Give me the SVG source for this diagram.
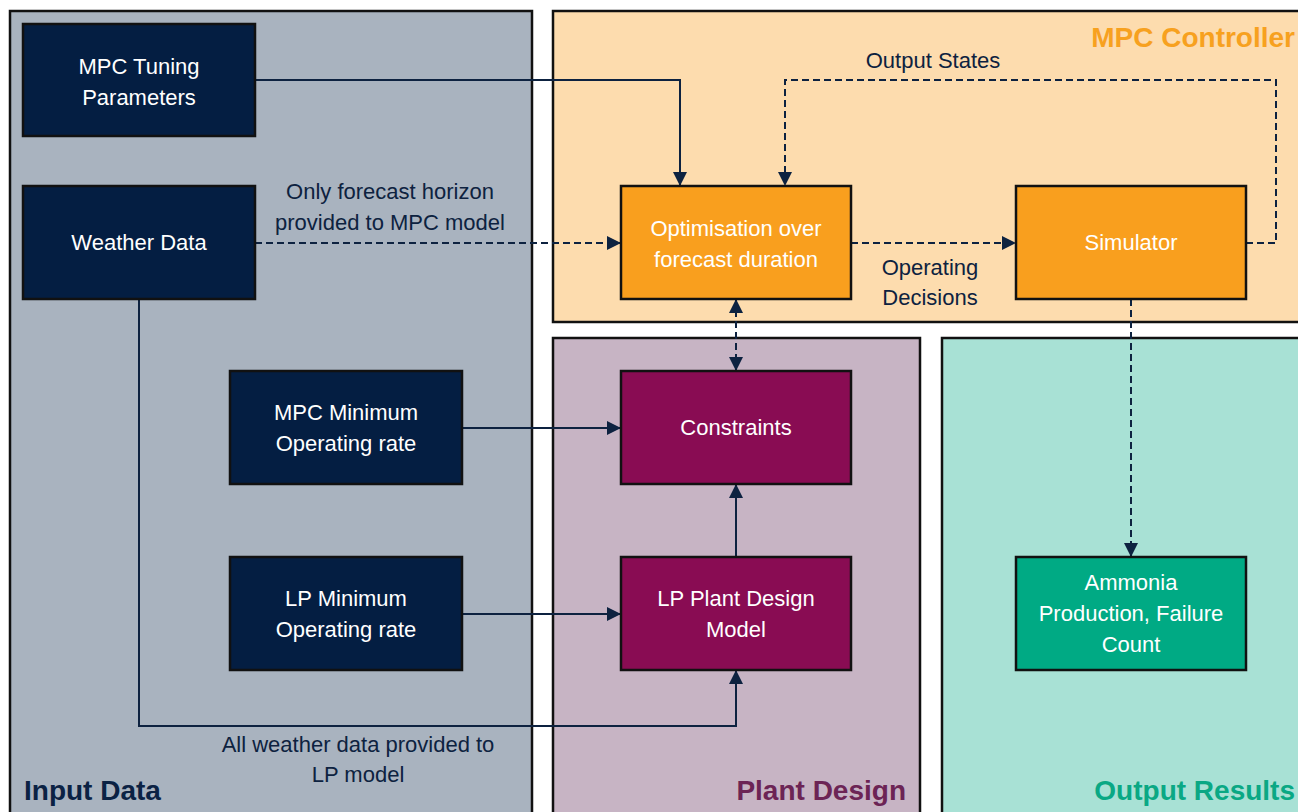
<svg xmlns="http://www.w3.org/2000/svg" width="1298" height="812" viewBox="0 0 1298 812">
<style>
.panel{stroke:#111;stroke-width:2.5}
.node{stroke:#111;stroke-width:2.5}
.navy{fill:#041e42}
.orange{fill:#f99f1e}
.plum{fill:#890c53}
.green{fill:#00aa84}
.nt{font-family:"Liberation Sans",Arial,sans-serif;font-size:22px;fill:#fff;text-anchor:middle}
.lbl{font-family:"Liberation Sans",Arial,sans-serif;font-size:22px;fill:#0d2240;text-anchor:middle}
.title{font-family:"Liberation Sans",Arial,sans-serif;font-size:28px;font-weight:bold}
.solid{fill:none;stroke:#0d2240;stroke-width:2}
.dash{fill:none;stroke:#0d2240;stroke-width:2;stroke-dasharray:7 4}
</style>
<defs>
<marker id="ah" viewBox="0 0 14 14" refX="14" refY="7" markerWidth="14" markerHeight="14" markerUnits="userSpaceOnUse" orient="auto-start-reverse">
<path d="M0,0 L14,7 L0,14 Z" fill="#0d2240"/>
</marker>
</defs>
<rect width="1298" height="812" fill="#fff"/>
<g id="panels">
<rect class="panel" x="10" y="11" width="522" height="810" fill="#a9b3bf"/>
<rect class="panel" x="553" y="11" width="755" height="311" fill="#fddcae"/>
<rect class="panel" x="553" y="338" width="367" height="483" fill="#c7b4c4"/>
<rect class="panel" x="942" y="338" width="366" height="483" fill="#a8e1d5"/>
<text class="title" x="24" y="800" fill="#0b2244">Input Data</text>
<text class="title" x="1295" y="47" fill="#f7a11f" text-anchor="end">MPC Controller</text>
<text class="title" x="906" y="800" fill="#6c2455" text-anchor="end">Plant Design</text>
<text class="title" x="1295" y="800" fill="#0aa884" text-anchor="end">Output Results</text>
</g>
<g id="connectors">
<polyline class="solid" points="255,80 680,80 680,186" marker-end="url(#ah)"/>
<line class="dash" x1="255" y1="243" x2="621" y2="243" marker-end="url(#ah)"/>
<line class="dash" x1="851" y1="243" x2="1016" y2="243" marker-end="url(#ah)"/>
<polyline class="dash" points="1246,243 1276,243 1276,80 785,80 785,186" marker-end="url(#ah)"/>
<line class="dash" x1="736" y1="299" x2="736" y2="371" marker-start="url(#ah)" marker-end="url(#ah)"/>
<line class="solid" x1="462" y1="428" x2="621" y2="428" marker-end="url(#ah)"/>
<line class="solid" x1="462" y1="614" x2="621" y2="614" marker-end="url(#ah)"/>
<line class="solid" x1="736" y1="557" x2="736" y2="484" marker-end="url(#ah)"/>
<polyline class="solid" points="139,299 139,726 736,726 736,670" marker-end="url(#ah)"/>
<line class="dash" x1="1131" y1="299" x2="1131" y2="557" marker-end="url(#ah)"/>
<text class="lbl" x="390" y="199">Only forecast horizon</text>
<text class="lbl" x="390" y="230">provided to MPC model</text>
<text class="lbl" x="930" y="275">Operating</text>
<text class="lbl" x="930" y="305">Decisions</text>
<text class="lbl" x="933" y="68">Output States</text>
<text class="lbl" x="358" y="752">All weather data provided to</text>
<text class="lbl" x="358" y="782">LP model</text>
</g>
<g id="mpc-tuning">
<rect class="node navy" x="23" y="24" width="232" height="112"/>
<text class="nt" x="139" y="74">MPC Tuning</text>
<text class="nt" x="139" y="105">Parameters</text>
</g>
<g id="weather">
<rect class="node navy" x="23" y="186" width="232" height="113"/>
<text class="nt" x="139" y="250">Weather Data</text>
</g>
<g id="mpc-min">
<rect class="node navy" x="230" y="371" width="232" height="113"/>
<text class="nt" x="346" y="420">MPC Minimum</text>
<text class="nt" x="346" y="451">Operating rate</text>
</g>
<g id="lp-min">
<rect class="node navy" x="230" y="557" width="232" height="113"/>
<text class="nt" x="346" y="606">LP Minimum</text>
<text class="nt" x="346" y="637">Operating rate</text>
</g>
<g id="optimisation">
<rect class="node orange" x="621" y="186" width="230" height="113"/>
<text class="nt" x="736" y="236">Optimisation over</text>
<text class="nt" x="736" y="267">forecast duration</text>
</g>
<g id="simulator">
<rect class="node orange" x="1016" y="186" width="230" height="113"/>
<text class="nt" x="1131" y="250">Simulator</text>
</g>
<g id="constraints">
<rect class="node plum" x="621" y="371" width="230" height="113"/>
<text class="nt" x="736" y="435">Constraints</text>
</g>
<g id="lp-plant">
<rect class="node plum" x="621" y="557" width="230" height="113"/>
<text class="nt" x="736" y="606">LP Plant Design</text>
<text class="nt" x="736" y="637">Model</text>
</g>
<g id="ammonia">
<rect class="node green" x="1016" y="557" width="230" height="113"/>
<text class="nt" x="1131" y="590">Ammonia</text>
<text class="nt" x="1131" y="621">Production, Failure</text>
<text class="nt" x="1131" y="652">Count</text>
</g>
</svg>
